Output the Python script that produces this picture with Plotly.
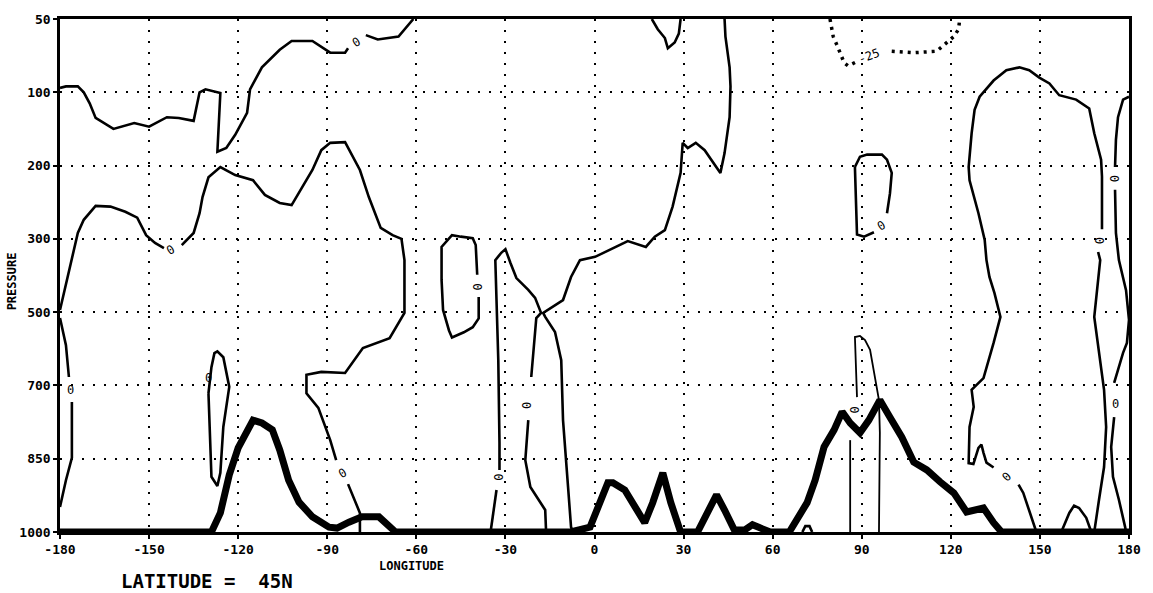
import numpy as np
import plotly.graph_objects as go

# ---------------- axes ----------------
levels = [50, 100, 200, 300, 500, 700, 850, 1000]
lon_ticks = list(range(-180, 181, 30))

# ---------------- zero contours (lon, pressure hPa); None = gap for a label ----------------
lon_a = [-180, -178, -174, -172, -170, -168, -162, -155, -150, -144, -140, -135, -133, -131, -126, -127,
         -124, -121, -117, -116, -112, -106, -102, -95, -89, -84, -83, None, -77, -73, -66, -64, -61]
p_a = [97, 96, 96, 100, 115, 135, 150, 142, 147, 134, 135, 139, 100, 98, 101, 181,
       176, 158, 128, 98, 83, 71, 65, 65, 73, 73, 70, None, 61, 64, 62, 57, 50]

lon_b = [-180, -178, -176, -174, -172, -168, -163, -158, -154, -151, -148, -145, None,
         -139, -135, -133, -132, -130, -126, -121, -115, -111, -106, -102, -100, -95, -92, -89, -84,
         -79, -76, -72, -68, -65, -64, -64, -69, -78, -84, -92, -97, -97, -93, -89, -87, None,
         -83, -79, -79]
p_b = [494, 426, 358, 292, 274, 255, 256, 263, 271, 295, 311, 325, None,
       317, 292, 265, 243, 216, 202, 213, 220, 240, 251, 254, 240, 206, 179, 169, 168,
       206, 243, 285, 295, 300, 358, 502, 571, 598, 666, 663, 671, 716, 746, 812, 853, None,
       902, 961, 1000]

lon_c = [-180, -178, -177, None, -176, -176, -178, -180]
p_c = [516, 590, 677, None, 734, 848, 894, 949]

lon_d = [-130, -129, -127, -126, -125, -123, -125, -127, -128, -129]
p_d = [716, 887, 906, 879, 785, 703, 623, 607, 612, 650]

lon_f = [-39, -39, -41, -44, -48, -49, -51, -51.5, -51.5, -48, -45, -41, -40, -39.5]
p_f = [459, 517, 541, 555, 569, 550, 494, 412, 322, 295, 297, 299, 317, 398]

lon_g = [-35, -34, -33, None, -32, -32, -32.4, -33.4, -31.4, -30, -28.3, -26.3, -22.3, -20, -18,
         -19.6, -21.3, None, -22.3, -23.3, -21.6, -16.6, -16.3]
p_g = [1000, 961, 914, None, 873, 818, 631, 358, 338, 328, 366, 407, 439, 461, 502,
       516, 677, None, 771, 853, 908, 955, 1000]

lon_h = [43.8, 44.1, 45.5, 45.8, 45.5, 43.8, 42.4, 37.1, 34.1, 31.4, 29.7, 29, 26.3, 23.7, 20.3,
         17.3, 11.2, 4.5, 0.2, -4.9, -7.9, -10.6, -13.3, -17.3, -16.6, -13.3, -11.2, -10.6, -8.9, -7.9, -7.2]
p_h = [50, 62, 83, 96, 134, 183, 210, 179, 169, 176, 169, 210, 256, 288, 297,
       322, 306, 333, 349, 358, 404, 467, 481, 502, 513, 554, 631, 771, 908, 990, 1000]

lon_i = [19.3, 21.3, 23.7, 24.7, 27, 28.4, 29]
p_i = [50, 57, 63, 70, 66, 60, 50]

lon_k = [87.7, 89.4, 91.8, 96.8, 98.5, 100.1, 99.5, 98.5, None, 94.1, 90.8, 88.4, 88.1, 87.7]
p_k = [202, 188, 185, 185, 192, 210, 238, 265, None, 291, 297, 294, 247, 202]

lon_l = [148.8, 147.8, 144.4, 142.8, None, 134.4, 132, 131, 130.3, 129.3, 127.6, 126, 126.3, 127.7,
         127, 128, 131, 134.4, 136.7, 134.7, 133, 132, 131.4, 129.3, 126.3, 126, 127, 128, 129.7,
         134.4, 138.7, 143.1, 146.4, 149.8, 153.2, 156.5, 162.2, 166.6, 168.3, 170.6, 170.9, 170.9,
         None, 169.6, 170.3, 168.3, 169.9, 171.6, 172.3, 171.6, 169.9, 168.9, 168.3]
p_l = [1000, 981, 920, 903, None, 868, 858, 838, 821, 828, 861, 859, 785, 744,
       709, 703, 680, 584, 513, 448, 404, 358, 303, 265, 220, 202, 156, 124, 106,
       92, 85, 83, 85, 90, 94, 104, 110, 122, 156, 192, 215, 287,
       None, 336, 358, 513, 611, 709, 785, 867, 934, 975, 1000]

lon_m = [180, 178, 176.3, 175.6, 175.3, None, 175.3, 175.6, 176.6, 179, 180, 179.3, 178, 175, None,
         175, 174, 174.6, 176.6, 178.7, 179]
p_m = [106, 110, 134, 165, 202, None, 233, 292, 358, 440, 521, 584, 611, 693, None,
       765, 826, 887, 934, 990, 1000]

lon_n = [86.1, 86.1, None, 88.4, 87.7, 89.4, 91.1, 92.8, 94.1, 95.8, 96.1, 95.8]
p_n = [1000, 812, None, 724, 568, 565, 576, 603, 666, 730, 797, 1000]

lon_o = [157.2, 159.9, 161.5, 163.2, 165.6, 166.6, 167.3]
p_o = [1000, 961, 946, 951, 971, 990, 1000]

lon_s = [70, 71, 72.4, 73.3]
p_s = [1000, 988, 988, 1000]

# -25 contour (dotted)
lon_j = [79.3, 80.4, 81.7, 82.7, 84.1, 85.4, 88.4, None, 100.1, 107.5, 115.2, 118.6, 121, 122.6, 123]
p_j = [50, 62, 68, 73, 80, 82, 79, None, 72, 73, 72, 66, 62, 57, 50]

# topography (surface) line
lon_q = [-180, -129, -126, -123, -120, -115, -112, -108.5, -106, -103, -99.5, -95, -89.4, -86.7, -82.7,
         -78.3, -72.6, -69.3, -67, -8, -4.5, -1.5, 4.5, 6.2, 10.2, 13.6, 16.9, 19.6, 23, 25.7, 29,
         34.7, 37.4, 41.1, 43.8, 47.1, 50.5, 53.2, 55.9, 59.2, 65.6, 68.3, 71.6, 74.3, 77.3, 80.7,
         83.4, 86.1, 89.4, 92.4, 96.1, 99.5, 103.5, 107.5, 111.9, 116.3, 121, 125.3, 131, 134.4,
         137.1, 180]
p_q = [1000, 1000, 961, 883, 828, 771, 777, 791, 832, 894, 939, 969, 990, 992, 980,
       969, 969, 990, 1000, 1000, 996, 990, 899, 899, 914, 948, 981, 940, 879, 940, 1000,
       1000, 969, 924, 955, 996, 996, 985, 992, 1000, 1000, 975, 940, 894, 826, 791,
       754, 777, 797, 771, 730, 765, 806, 857, 873, 897, 920, 959, 951, 981,
       1000, 1000]

# contour labels
lab_lon = [-80, -142.8, -176.3, -130, -84.7, -39.4, -32.4, -23, 96.5, 169.9, 175, 175.3, 138.7, 87.4, 92.4]
lab_p = [66, 330, 709, 680, 879, 431, 887, 740, 283, 303, 217, 738, 887, 749, 75]
lab_text = ["0", "0", "0", "0", "0", "0", "0", "0", "0", "0", "0", "0", "0", "0", "-25"]
lab_angle = [-30, -30, 0, 0, -30, 90, 90, 90, -30, 90, 90, 0, -45, 90, -20]

level_pos = list(range(len(levels)))


def ypos(ps):
    return [None if v is None else float(np.interp(v, levels, level_pos)) for v in ps]


fig = go.Figure()

thin = [(lon_a, p_a), (lon_b, p_b), (lon_c, p_c), (lon_d + [lon_d[0]], p_d + [p_d[0]]),
        (lon_f + [None], p_f + [None]), (lon_g, p_g), (lon_h, p_h), (lon_i, p_i), (lon_k, p_k),
        (lon_l, p_l), (lon_m, p_m), (lon_o, p_o), (lon_s, p_s)]
for lx, lp in thin:
    fig.add_trace(go.Scatter(x=lx, y=ypos(lp), mode="lines",
                             line=dict(color="black", width=2.6), connectgaps=False,
                             hoverinfo="skip", showlegend=False))

fig.add_trace(go.Scatter(x=lon_n, y=ypos(p_n), mode="lines",
                         line=dict(color="black", width=1.8), connectgaps=False,
                         hoverinfo="skip", showlegend=False))

fig.add_trace(go.Scatter(x=lon_j, y=ypos(p_j), mode="lines",
                         line=dict(color="black", width=3.5, dash="3px,5px"), connectgaps=False,
                         hoverinfo="skip", showlegend=False))

fig.add_trace(go.Scatter(x=lon_q, y=ypos(p_q), mode="lines",
                         line=dict(color="black", width=7), hoverinfo="skip", showlegend=False))

mono = "DejaVu Sans Mono"
annotations = []
for lx, lp, t, a in zip(lab_lon, lab_p, lab_text, lab_angle):
    annotations.append(dict(x=lx, y=ypos([lp])[0], xref="x", yref="y", text=t, showarrow=False,
                            textangle=a, font=dict(family=mono, size=12, color="black")))

annotations += [
    dict(text="LONGITUDE", x=0.329, y=-0.0655, xref="paper", yref="paper", showarrow=False,
         xanchor="center", yanchor="middle", font=dict(family=mono, size=12, color="black", weight="bold")),
    dict(text="LATITUDE =  45N", x=0.1375, y=-0.095, xref="paper", yref="paper", showarrow=False,
         xanchor="center", yanchor="middle", font=dict(family=mono, size=19, color="black", weight="bold")),
    dict(text="PRESSURE", x=-0.0447, y=0.489, xref="paper", yref="paper", showarrow=False,
         textangle=-90, xanchor="center", yanchor="middle",
         font=dict(family=mono, size=12, color="black", weight="bold")),
]

axis_common = dict(showgrid=True, gridcolor="black", gridwidth=2, griddash="2px,9px",
                   showline=True, linecolor="black", linewidth=2.5, mirror=True,
                   ticks="outside", ticklen=4, tickwidth=2, tickcolor="black", zeroline=False,
                   tickfont=dict(family=mono, size=13, color="black", weight="bold"))

fig.update_layout(
    width=1153, height=593,
    margin=dict(l=60, r=20, t=19, b=61),
    paper_bgcolor="white", plot_bgcolor="white",
    xaxis=dict(range=[-180, 180], tickvals=lon_ticks, ticktext=[str(v) for v in lon_ticks], **axis_common),
    yaxis=dict(range=[len(levels) - 1, 0], tickvals=level_pos, ticktext=[str(v) for v in levels], **axis_common),
    annotations=annotations,
    showlegend=False,
)

fig.write_html("out.html")
